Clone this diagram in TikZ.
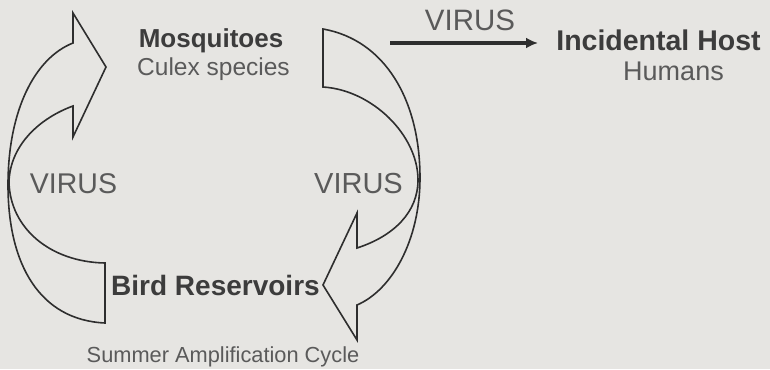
\documentclass[tikz,border=0pt]{standalone}
\usepackage{fontspec}
\setmainfont{Liberation Sans}
\usetikzlibrary{arrows.meta}
\definecolor{bg}{HTML}{E6E5E2}
\definecolor{ink}{HTML}{2E2E2E}
\definecolor{boldtxt}{HTML}{3C3C3C}
\definecolor{lighttxt}{HTML}{5A5A5A}
\tikzset{
  lbl/.style={anchor=base, inner sep=0pt, text=lighttxt},
  blbl/.style={anchor=base, inner sep=0pt, text=boldtxt, font=\bfseries},
  ribbon/.style={draw=ink, line width=1.6pt, line join=miter},
  flow/.style={draw=ink, line width=3.6pt, -{Latex[length=12pt,width=11pt]}}
}
\begin{document}
\begin{tikzpicture}[x=1pt,y=-1pt]
\path[fill=bg, use as bounding box] (0,0) rectangle (770,369);

% texts
\node[blbl, font=\bfseries\fontsize{26}{28}\selectfont] (mosq) at (211,48) {Mosquitoes};
\node[lbl, font=\fontsize{24.5}{26}\selectfont] (culex) at (213.5,75) {Culex species};
\node[blbl, font=\bfseries\fontsize{28}{30}\selectfont] (bird) at (215.5,295) {Bird Reservoirs};
\node[blbl, font=\bfseries\fontsize{28.5}{30}\selectfont] (host) at (658.5,50) {Incidental Host};
\node[lbl, font=\fontsize{27}{29}\selectfont] (humans) at (673.5,80) {Humans};
\node[lbl, font=\fontsize{28.5}{30}\selectfont] (vleft) at (73.5,193) {VIRUS};
\node[lbl, font=\fontsize{29}{30}\selectfont] (vright) at (358.5,193) {VIRUS};
\node[lbl, font=\fontsize{29.5}{30}\selectfont] (vtop) at (470,31) {VIRUS};
\node[lbl, font=\fontsize{21.8}{24}\selectfont] (cycle) at (223,362) {Summer Amplification Cycle};

% left ribbon arrow (bird -> mosquito)
\path[ribbon] (105,323) .. controls (40,320) and (8,265) .. (8,185)
  .. controls (8,110) and (35,58) .. (73,43)
  -- (73,13) -- (106,67) -- (73,137) -- (73,106)
  .. controls (40,118) and (10,145) .. (9,182)
  .. controls (10,228) and (50,262) .. (105,263) -- cycle;

% right ribbon arrow (mosquito -> bird)
\path[ribbon] (323,29) .. controls (385,40) and (420,100) .. (420,178)
  .. controls (420,240) and (392,290) .. (357,305)
  -- (357,340) -- (323,285) -- (357,213) -- (357,248)
  .. controls (394,236) and (418,212) .. (418,180)
  .. controls (418,135) and (372,90) .. (323,87) -- cycle;

% mosquito -> humans
\coordinate (vs) at (390,43);
\coordinate (ve) at (538,43);
\draw[flow] (vs) -- (ve);
\end{tikzpicture}
\end{document}
